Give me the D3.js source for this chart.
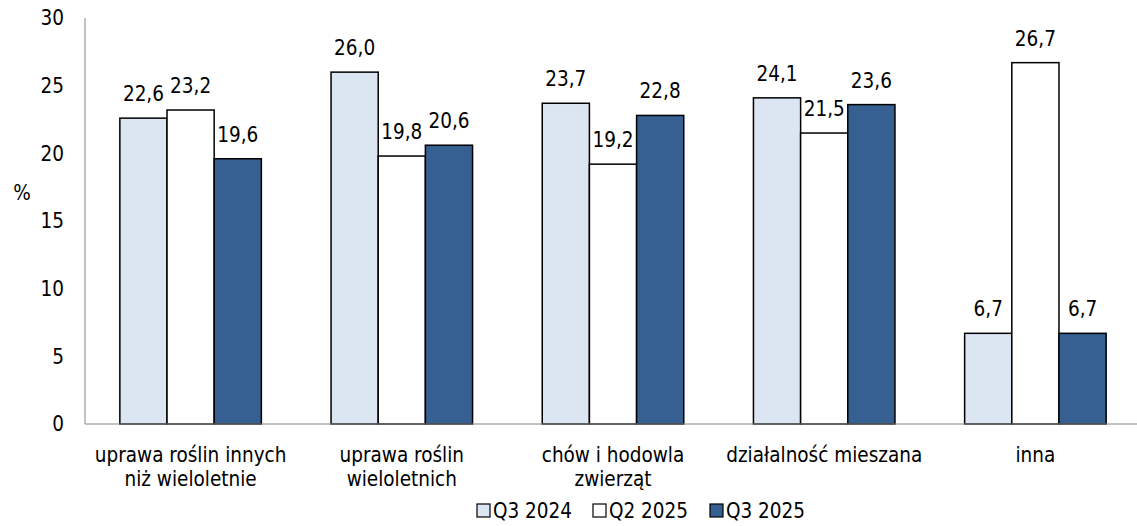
<!DOCTYPE html>
<html><head><meta charset="utf-8">
<script src="https://cdn.jsdelivr.net/npm/d3@7"></script>
<style>body{margin:0;background:#fff}svg{display:block}text{font-family:"DejaVu Sans Condensed","DejaVu Sans",sans-serif;fill:#000}</style>
</head><body><svg id="c" width="1137" height="526"></svg>
<script>
const categories = [["uprawa roślin innych","niż wieloletnie"],["uprawa roślin","wieloletnich"],["chów i hodowla","zwierząt"],["działalność mieszana"],["inna"]];
const seriesNames = ["Q3 2024","Q2 2025","Q3 2025"];
const q3_2024 = [22.6,26.0,23.7,24.1,6.7];
const q2_2025 = [23.2,19.8,19.2,21.5,26.7];
const q3_2025 = [19.6,20.6,22.8,23.6,6.7];
const yTicks = [0,5,10,15,20,25,30];
const colors = ["#dce6f2","#ffffff","#376092"];

const series = [q3_2024,q2_2025,q3_2025];
const svg = d3.select("#c");
const fs = 20.5;
const x0 = d3.scaleBand().domain(d3.range(categories.length)).range([85,1141]).paddingInner(0.33).paddingOuter(0.165);
const x1 = d3.scaleBand().domain(d3.range(3)).range([0,x0.bandwidth()]);
const y = d3.scaleLinear().domain([0,30]).range([424,18]);

// axes
svg.append("line").attr("x1",85).attr("x2",85).attr("y1",y(30)).attr("y2",y(0)).attr("stroke","#868686").attr("stroke-width",1);
svg.selectAll(".yt").data(yTicks).enter().append("text").attr("x",64).attr("y",d=>y(d)).attr("dy","0.35em")
  .attr("text-anchor","end").style("font-size",fs+"px").text(d=>d);
svg.append("text").attr("x",22).attr("y",193).attr("dy","0.35em").attr("text-anchor","middle").style("font-size",fs+"px").text("%");

const g = svg.selectAll(".grp").data(categories).enter().append("g").attr("transform",(d,i)=>`translate(${x0(i)},0)`);
series.forEach((s,si)=>{
  g.append("rect").attr("x",x1(si)).attr("width",x1.bandwidth()).attr("y",(d,i)=>y(s[i])).attr("height",(d,i)=>y(0)-y(s[i]))
   .attr("fill",colors[si]).attr("stroke","#000").attr("stroke-width",1.5);
  g.append("text").attr("x",x1(si)+x1.bandwidth()/2).attr("y",(d,i)=>y(s[i])-17).attr("text-anchor","middle")
   .style("font-size",fs+"px").text((d,i)=>s[i].toFixed(1).replace(".",","));
});
svg.append("line").attr("x1",85).attr("x2",1137).attr("y1",y(0)).attr("y2",y(0)).attr("stroke","#868686").attr("stroke-width",1.2);

// category labels
g.each(function(d,i){
  const t = d3.select(this).append("text").attr("text-anchor","middle").style("font-size",fs+"px");
  d.forEach((line,li)=>t.append("tspan").attr("x",x0.bandwidth()/2).attr("y",462+li*24).text(line));
});

// legend
const legX = [477,593,710];
seriesNames.forEach((n,i)=>{
  svg.append("rect").attr("x",legX[i]).attr("y",504).attr("width",13).attr("height",13).attr("fill",colors[i]).attr("stroke","#000").attr("stroke-width",1.2);
  svg.append("text").attr("x",legX[i]+16).attr("y",511).attr("dy","0.35em").style("font-size",fs+"px").text(n);
});
</script></body></html>
